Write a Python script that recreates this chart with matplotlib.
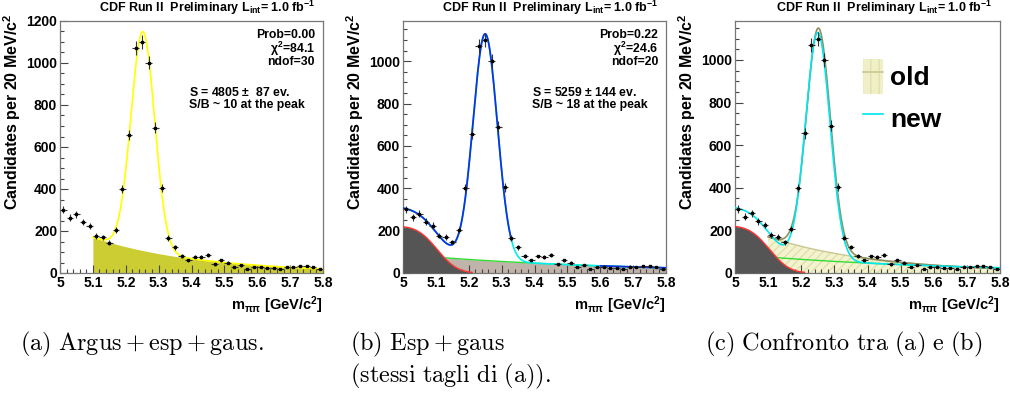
import math
import numpy as np
import matplotlib.pyplot as plt
from matplotlib.patches import Patch
from matplotlib.lines import Line2D
from matplotlib.ticker import MultipleLocator, FuncFormatter

plt.rcParams.update({
    'font.family': ['Liberation Sans', 'DejaVu Sans'],
    'font.weight': 'bold',
    'axes.labelweight': 'bold',
    'axes.titleweight': 'bold',
    'mathtext.fontset': 'custom',
    'mathtext.rm': 'Liberation Sans:bold',
    'mathtext.it': 'Liberation Sans:bold',
    'mathtext.bf': 'Liberation Sans:bold',
    'mathtext.sf': 'Liberation Sans:bold',
})

# B -> h h mass spectrum, 20 MeV bins from 5.0 to 5.8 GeV/c^2
bin_lo, bin_hi, bin_w = 5.0, 5.8, 0.02
counts = [301, 264, 280, 243, 224, 177, 170, 145, 205, 400,
          657, 1071, 1100, 1001, 691, 404, 166, 122, 81, 60,
          78, 76, 84, 41, 60, 48, 29, 37, 21, 29,
          30, 25, 25, 21, 30, 29, 32, 32, 29, 18]

# fit (a): exponential background starting at 5.1 + gaussian
old_bg_norm, old_bg_slope, old_bg_start = 170.0, 3.06, 5.10
old_sig_amp, old_sig_mean, old_sig_width = 1043.0, 5.252, 0.036

# fit (b): smeared low-mass edge + exponential + gaussian
edge_amp, edge_pos, edge_width, edge_end = 222.0, 5.104, 0.048, 5.21
new_bg_norm, new_bg_slope = 88.0, 1.6
new_sig_amp, new_sig_mean, new_sig_width = 1070.0, 5.250, 0.037

stats_a = ["Prob=0.00", r"$\chi^{2}$=84.1", "ndof=30"]
stats_b = ["Prob=0.22", r"$\chi^{2}$=24.6", "ndof=20"]
yield_a = ["S = 4805 $\\pm$  87 ev.", "S/B ~ 10 at the peak"]
yield_b = ["S = 5259 $\\pm$ 144 ev.", "S/B ~ 18 at the peak"]
captions = [r"$\mathrm{(a)\ Argus + esp + gaus.}$",
            r"$\mathrm{(b)\ Esp + gaus}$",
            r"$\mathrm{(stessi\ tagli\ di\ (a)).}$",
            r"$\mathrm{(c)\ Confronto\ tra\ (a)\ e\ (b)}$"]

centres = bin_lo + bin_w * (np.arange(len(counts)) + 0.5)
counts = np.array(counts, dtype=float)
errors = np.sqrt(counts)

erf = np.vectorize(math.erf)


def gaus(x, a, m, s):
    return a * np.exp(-0.5 * ((x - m) / s) ** 2)


def old_bg(x):
    return old_bg_norm * np.exp(-old_bg_slope * (x - old_bg_start))


def old_total(x):
    return old_bg(x) + gaus(x, old_sig_amp, old_sig_mean, old_sig_width)


def edge(x):
    return 0.5 * edge_amp * (1 - erf((x - edge_pos) / (math.sqrt(2) * edge_width)))


def new_bg(x):
    return new_bg_norm * np.exp(-new_bg_slope * (x - bin_lo))


def new_total(x):
    return edge(x) + new_bg(x) + gaus(x, new_sig_amp, new_sig_mean, new_sig_width)


xs = np.linspace(bin_lo, bin_hi, 600)
xs_old = np.linspace(old_bg_start, bin_hi, 500)
xs_edge = np.linspace(bin_lo, edge_end, 200)

fig = plt.figure(figsize=(10.1, 3.96), dpi=100)
ax_a = fig.add_axes([60 / 1010, 123 / 396, 263 / 1010, 252 / 396])
ax_b = fig.add_axes([403 / 1010, 123 / 396, 263 / 1010, 252 / 396])
ax_c = fig.add_axes([735 / 1010, 123 / 396, 265 / 1010, 252 / 396])


def style(ax, ymax):
    ax.set_xlim(bin_lo, bin_hi)
    ax.set_ylim(0, ymax)
    ax.xaxis.set_major_locator(MultipleLocator(0.1))
    ax.xaxis.set_minor_locator(MultipleLocator(0.02))
    ax.yaxis.set_major_locator(MultipleLocator(200))
    ax.yaxis.set_minor_locator(MultipleLocator(50))
    ax.xaxis.set_major_formatter(FuncFormatter(lambda v, p: f"{v:g}"))
    ax.tick_params(which='both', direction='in', top=False, right=False,
                   labelsize=10, color='#444444', width=0.8, pad=2)
    ax.tick_params(which='major', length=6)
    ax.tick_params(which='minor', length=3)
    for lbl in ax.get_xticklabels() + ax.get_yticklabels():
        lbl.set_fontweight('bold')
    for sp in ax.spines.values():
        sp.set_color('#777777')
        sp.set_linewidth(0.9)
    ax.set_ylabel("Candidates per 20 MeV/c$^{2}$", fontsize=11.5,
                  loc='top', fontweight='bold')
    ax.yaxis.set_label_coords(-0.14, 1.03)
    ax.set_xlabel(r"m$_{\pi\pi}$ [GeV/c$^{2}$]", fontsize=10.5, loc='right',
                  labelpad=3, fontweight='bold')
    ax.text(0.97, 1.052, "CDF Run II  Preliminary L$_{int}$= 1.0 fb$^{-1}$",
            transform=ax.transAxes, ha='right', va='center', fontsize=9,
            fontweight='bold')


def draw_data(ax):
    ax.errorbar(centres, counts, yerr=errors, xerr=bin_w / 2, fmt='s', ms=2,
                color='black', ecolor='#333333', elinewidth=0.8, capsize=0, zorder=10)


def stat_box(ax, stats, yields):
    for i, s in enumerate(stats):
        ax.text(0.97, 0.944 - i * 0.054, s, transform=ax.transAxes, ha='right',
                va='center', fontsize=8.8)
    for i, s in enumerate(yields):
        ax.text(0.49, 0.718 - i * 0.052, s, transform=ax.transAxes, ha='left',
                va='center', fontsize=8.8)


def draw_edge(ax):
    ax.fill_between(xs_edge, 0, edge(xs_edge), color='#555555', lw=0, zorder=3)
    ax.plot(xs_edge, edge(xs_edge), color='#ff3333', lw=1, zorder=4)


# (a) old fit
style(ax_a, 1200)
ax_a.fill_between(xs_old, 0, old_bg(xs_old), color='#cccc33', lw=0, zorder=1)
ax_a.plot(xs_old, old_total(xs_old), color='#ffff00', lw=1.2, zorder=5)
draw_data(ax_a)
stat_box(ax_a, stats_a, yield_a)

# (b) new fit
style(ax_b, 1190)
ax_b.fill_between(xs, 0, new_bg(xs), color='#bfb3aa', lw=0, zorder=1)
ax_b.plot(xs, new_bg(xs), color='#33dd33', lw=1, zorder=2)
draw_edge(ax_b)
ax_b.plot(xs, new_total(xs), color='#00eeee', lw=1.2, zorder=5)
for lo, hi in [(bin_lo, 5.33), (5.6, bin_hi)]:
    seg = xs[(xs >= lo) & (xs <= hi)]
    ax_b.plot(seg, new_total(seg), color='#1133dd', lw=1.3, zorder=6)
draw_data(ax_b)
stat_box(ax_b, stats_b, yield_b)

# (c) comparison of the two fits
style(ax_c, 1183)
ax_c.fill_between(xs_old, 0, old_bg(xs_old), facecolor='#f3f3d2',
                  edgecolor='#e0e0a8', hatch='////', lw=0, zorder=1)
ax_c.plot(xs_old, old_bg(xs_old), color='#c8c890', lw=1, zorder=2)
ax_c.plot(xs, new_bg(xs), color='#33dd33', lw=1, zorder=2)
draw_edge(ax_c)
ax_c.plot(xs_old, old_total(xs_old), color='#8f8f60', lw=1.2, zorder=5)
ax_c.plot(xs, new_total(xs), color='#00e5ee', lw=1.2, zorder=6)
draw_data(ax_c)
old_handle = (Patch(facecolor='#f0f0c8', edgecolor='#e0e0a8', hatch='||', lw=0),
              Line2D([], [], color='#c8c890', lw=1.2))
new_handle = Line2D([], [], color='#00e5ee', lw=1.2)
ax_c.legend([old_handle, new_handle], ["old", "new"], loc='upper left',
            bbox_to_anchor=(0.395, 0.945), frameon=False,
            handlelength=0.75, handleheight=1.7, handletextpad=0.25, labelspacing=0.25,
            prop={'weight': 'bold', 'size': 19})

# subfigure captions
cap_kw = dict(fontsize=17.5, math_fontfamily='cm', va='center', ha='left')
fig.text(20 / 1010, 1 - 344 / 396, captions[0], **cap_kw)
fig.text(350 / 1010, 1 - 344 / 396, captions[1], **cap_kw)
fig.text(350 / 1010, 1 - 376 / 396, captions[2], **cap_kw)
fig.text(705 / 1010, 1 - 344 / 396, captions[3], **cap_kw)

fig.savefig("out.png", dpi=100)
